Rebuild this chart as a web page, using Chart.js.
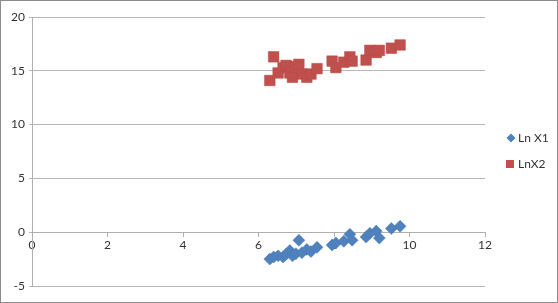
<!DOCTYPE html>
<html>
<head>
<meta charset="utf-8">
<script src="https://cdn.jsdelivr.net/npm/chart.js@4/dist/chart.umd.min.js"></script>
<style>
  html, body { margin: 0; padding: 0; background: #fff; }
  #wrap { width: 558px; height: 303px; box-sizing: border-box; border: 1px solid #8c8c8c; position: relative; }
  #c { display: block; }
</style>
</head>
<body>
<div id="wrap"><canvas id="c" width="556" height="301"></canvas></div>
<script>
// values
const xVals = [6.30, 6.40, 6.52, 6.65, 6.73, 6.83, 6.90, 6.99, 7.07, 7.15, 7.28, 7.39, 7.55, 7.95, 8.05, 8.26, 8.42, 8.48, 8.85, 8.95, 9.12, 9.20, 9.52, 9.75];
const lnX1 = [-2.5, -2.3, -2.2, -2.3, -2.05, -1.7, -2.2, -2.0, -0.75, -1.9, -1.6, -1.8, -1.4, -1.2, -1.0, -0.85, -0.2, -0.75, -0.45, -0.1, 0.1, -0.55, 0.35, 0.55];
const lnX2 = [14.1, 16.3, 14.8, 15.3, 15.5, 14.8, 14.4, 15.4, 15.6, 14.7, 14.4, 14.7, 15.2, 15.9, 15.3, 15.8, 16.3, 15.9, 16.0, 16.9, 16.7, 16.9, 17.1, 17.4];
const seriesNames = ['Ln X1', 'LnX2'];
const xTicks = [0, 2, 4, 6, 8, 10, 12];
const yTicks = [-5, 0, 5, 10, 15, 20];

const toPts = ys => xVals.map((x, i) => ({ x: x, y: ys[i] }));

// legend drawn on the right, Excel style
const sideLegend = {
    id: 'sideLegend',
    afterDraw(chart) {
        const ctx = chart.ctx;
        ctx.save();
        ctx.font = '12px Lato';
        ctx.fillStyle = '#333';
        ctx.textBaseline = 'middle';
        const rows = [137, 163];
        chart.data.datasets.forEach((ds, i) => {
            const y = rows[i];
            ctx.fillStyle = ds.backgroundColor;
            ctx.beginPath();
            if (ds.pointStyle === 'rectRot') {
                ctx.moveTo(510, y - 4.5); ctx.lineTo(514.5, y); ctx.lineTo(510, y + 4.5); ctx.lineTo(505.5, y);
            } else {
                ctx.rect(505, y - 4, 8, 8);
            }
            ctx.fill();
            ctx.fillStyle = '#333';
            ctx.fillText(ds.label, 517, y);
        });
        ctx.restore();
    }
};

new Chart(document.getElementById('c'), {
    type: 'scatter',
    data: {
        datasets: [{
            label: seriesNames[0],
            data: toPts(lnX1),
            pointStyle: 'rectRot',
            radius: 6,
            backgroundColor: '#4f81bd',
            borderColor: '#4a7ab4',
            borderWidth: 0.5
        }, {
            label: seriesNames[1],
            data: toPts(lnX2),
            pointStyle: 'rect',
            radius: 7.5,
            backgroundColor: '#c0504d',
            borderColor: '#b84a47',
            borderWidth: 0.5
        }]
    },
    options: {
        responsive: false,
        animation: false,
        events: [],
        layout: { padding: { top: 16, right: 72, bottom: 16, left: 0 } },
        plugins: {
            legend: { display: false },
            tooltip: { enabled: false }
        },
        scales: {
            x: {
                type: 'linear',
                position: { y: 0 },
                min: 0,
                max: 12,
                afterBuildTicks: s => { s.ticks = xTicks.map(v => ({ value: v })); },
                grid: { drawOnChartArea: false, color: '#b0b0b0', tickLength: 4 },
                border: { color: '#b0b0b0' },
                ticks: { font: { family: 'Lato', size: 12 }, color: '#333', padding: 2 }
            },
            y: {
                type: 'linear',
                min: -5,
                max: 20,
                afterBuildTicks: s => { s.ticks = yTicks.map(v => ({ value: v })); },
                afterFit: s => { s.width = 31; },
                grid: { color: '#b8b8b8', tickLength: 3 },
                border: { color: '#b0b0b0' },
                ticks: { font: { family: 'Lato', size: 12 }, color: '#333', padding: 4 }
            }
        }
    },
    plugins: [sideLegend]
});
</script>
</body>
</html>
